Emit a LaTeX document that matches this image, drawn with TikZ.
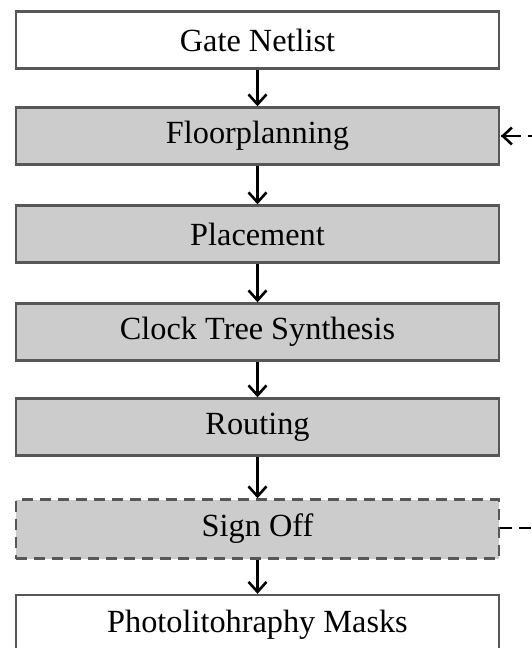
\documentclass[tikz,border=0pt]{standalone}
\usepackage{fontspec}
\setmainfont{Liberation Serif}
\usetikzlibrary{arrows.meta}
\definecolor{boxfill}{HTML}{CCCCCC}
\definecolor{boxline}{HTML}{575757}
\begin{document}
\begin{tikzpicture}[x=1pt,y=-1pt,
  flowbox/.style={draw=boxline, line width=2.4pt, minimum width=483pt, minimum height=57pt,
    inner sep=0pt, font=\fontsize{32.3}{38}\selectfont, text=black},
  stagebox/.style={flowbox, fill=boxfill},
  endbox/.style={flowbox, fill=white},
  flow/.style={line width=2.6pt, -{Straight Barb[length=10pt,width=18pt,line width=2.6pt]}},
  feedback/.style={line width=2.4pt, dash pattern=on 12pt off 7pt},
]
\useasboundingbox (0,0) rectangle (532,648);
\fill[white] (0,0) rectangle (532,648);

\node[endbox]   (gate)  at (257.5,40)  {Gate Netlist};
\node[stagebox] (floor) at (257.5,136) {Floorplanning};
\node[stagebox] (place) at (257.5,234) {Placement};
\node[stagebox] (cts)   at (257.5,332) {Clock Tree Synthesis};
\node[stagebox] (route) at (257.5,427) {Routing};
\node[stagebox, dash pattern=on 11pt off 7pt, minimum height=59pt] (sign) at (257.5,529) {Sign Off};
\node[endbox, minimum height=60pt] (masks) at (257.5,625) {Photolitohraphy Masks};

\draw[flow] (gate)  -- (floor);
\draw[flow] (floor) -- (place);
\draw[flow] (place) -- (cts);
\draw[flow] (cts)   -- (route);
\draw[flow] (route) -- (sign);
\draw[flow] (sign)  -- (masks);

% iteration loop from sign-off back to floorplanning
\coordinate (loopbot) at (533,528);
\coordinate (looptop) at (533,136);
\coordinate (looptip) at (501,136);
\draw[feedback] (sign.east |- loopbot) -- (loopbot) -- (looptop) -- (looptop -| looptip);
\draw[line width=2.6pt, -{Straight Barb[length=9pt,width=17pt,line width=2.6pt]}]
  (514,136) -- (looptip);
\end{tikzpicture}
\end{document}
